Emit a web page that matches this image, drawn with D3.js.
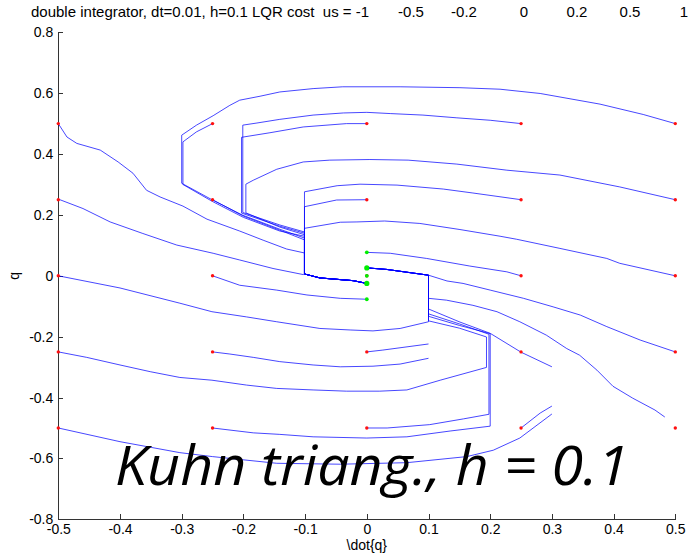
<!DOCTYPE html>
<html>
<head>
<meta charset="utf-8">
<script src="https://cdn.jsdelivr.net/npm/d3@7"></script>
<style>
  body { margin: 0; background: #fff; }
  svg { display: block; font-family: "Liberation Sans", Arial, sans-serif; }
  .axis text { font-size: 14px; fill: #000; }
  .axis path, .axis line { stroke: #333; shape-rendering: crispEdges; }
  .traj { fill: none; stroke: #0000ff; stroke-width: 1; stroke-opacity: 0.72; }
  .title { font-size: 15px; white-space: pre; }
  .axis-title { font-size: 14px; }
  .big-label { font-family: "Open Sans", "Noto Sans", sans-serif; font-style: italic; font-size: 54px; }
</style>
</head>
<body>
<svg id="chart"></svg>
<script>
// tick labels and title controls
const xTicks = [-0.5, -0.4, -0.3, -0.2, -0.1, 0, 0.1, 0.2, 0.3, 0.4, 0.5];
const yTicks = [-0.8, -0.6, -0.4, -0.2, 0, 0.2, 0.4, 0.6, 0.8];
const usValues = [-1, -0.5, -0.2, 0, 0.2, 0.5, 1];

// start grid (red) and final states (green)
const startQdot = [-0.5, -0.25, 0, 0.25, 0.5];
const startQ = [-0.5, -0.25, 0, 0.25, 0.5];
const endQ = [0.077, 0.026, 0, -0.025, -0.077];

// shared final runs along the switching lines
const runDownLeft = [[-0.101, 0.006], [-0.076, -0.007], [-0.022, -0.016], [0, -0.025]];
const runUpRight = [[0.1, 0.002], [0.032, 0.021], [0, 0.026]];

// trajectories, [qdot, q]
const trajP50P50 = [[0.5, 0.5], [0.448, 0.53], [0.378, 0.564], [0.281, 0.599], [0.216, 0.613], [0.151, 0.618], [0.054, 0.621], [-0.039, 0.621], [-0.087, 0.615], [-0.141, 0.604], [-0.173, 0.59], [-0.206, 0.577], [-0.222, 0.56], [-0.249, 0.526], [-0.276, 0.495], [-0.3, 0.462], [-0.3, 0.304], [-0.251, 0.25], [-0.201, 0.199], [-0.141, 0.153], [-0.101, 0.124], ...runDownLeft];
const trajM25P50 = [[-0.25, 0.5], [-0.276, 0.473], [-0.298, 0.44], [-0.298, 0.3], [-0.25, 0.244], [-0.2, 0.192], [-0.141, 0.147], [-0.101, 0.13], ...runDownLeft];
const trajM25P25 = [[-0.25, 0.25], [-0.2, 0.196], [-0.141, 0.15], [-0.101, 0.118], ...runDownLeft];
const trajZ00P50 = [[0, 0.5], [-0.033, 0.5], [-0.103, 0.489], [-0.157, 0.47], [-0.203, 0.455], [-0.203, 0.206], [-0.141, 0.163], [-0.101, 0.14], ...runDownLeft];
const trajP25P50 = [[0.25, 0.5], [0.2, 0.511], [0.146, 0.519], [0.091, 0.528], [0.038, 0.533], [0, 0.537], [-0.038, 0.535], [-0.087, 0.528], [-0.141, 0.514], [-0.178, 0.502], [-0.201, 0.495], [-0.201, 0.208], [-0.141, 0.167], [-0.101, 0.144], ...runDownLeft];
const trajP50P25 = [[0.5, 0.25], [0.41, 0.292], [0.313, 0.331], [0.227, 0.347], [0.146, 0.367], [0.067, 0.38], [0.005, 0.382], [-0.06, 0.38], [-0.103, 0.374], [-0.146, 0.35], [-0.184, 0.314], [-0.196, 0.301], [-0.196, 0.207], [-0.141, 0.16], [-0.101, 0.135], ...runDownLeft];
const trajP25P25 = [[0.25, 0.25], [0.172, 0.272], [0.124, 0.285], [0.049, 0.298], [-0.011, 0.301], [-0.048, 0.296], [-0.101, 0.276], ...runDownLeft];
const trajZ00P25 = [[0, 0.25], [-0.049, 0.249], [-0.101, 0.227], ...runDownLeft];
const trajP50Z00 = [[0.5, 0], [0.41, 0.041], [0.389, 0.057], [0.313, 0.09], [0.243, 0.12], [0.216, 0.13], [0.151, 0.152], [0.086, 0.172], [0.029, 0.18], [-0.016, 0.177], [-0.043, 0.176], [-0.101, 0.156], ...runDownLeft];
const trajP25Z00 = [[0.25, 0], [0.227, 0.013], [0.167, 0.032], [0.097, 0.057], [0.038, 0.074], [0, 0.077]];
const trajM50P50 = [[-0.5, 0.5], [-0.486, 0.456], [-0.47, 0.435], [-0.432, 0.413], [-0.403, 0.374], [-0.379, 0.337], [-0.357, 0.281], [-0.335, 0.259], [-0.298, 0.229], [-0.259, 0.186], [-0.206, 0.147], [-0.168, 0.117], [-0.13, 0.088], [-0.101, 0.075], ...runDownLeft];
const trajM50P25 = [[-0.5, 0.252], [-0.46, 0.221], [-0.416, 0.177], [-0.363, 0.139], [-0.308, 0.101], [-0.249, 0.074], [-0.206, 0.052], [-0.152, 0.024], [-0.103, 0.004], ...runDownLeft];
const trajM50Z00 = [[-0.5, 0], [-0.4, -0.04], [-0.303, -0.09], [-0.251, -0.118], [-0.195, -0.135], [-0.146, -0.151], [-0.076, -0.173], [-0.027, -0.178], [0.01, -0.181], [0.054, -0.173], [0.1, -0.151], ...runUpRight];
const trajM25Z00 = [[-0.25, 0], [-0.206, -0.031], [-0.146, -0.047], [-0.097, -0.063], [-0.043, -0.074], [0, -0.077]];
const trajM50M25 = [[-0.5, -0.25], [-0.454, -0.268], [-0.4, -0.293], [-0.351, -0.315], [-0.303, -0.334], [-0.251, -0.343], [-0.195, -0.359], [-0.146, -0.37], [-0.087, -0.375], [-0.033, -0.379], [0.021, -0.379], [0.065, -0.375], [0.119, -0.343], [0.194, -0.301], [0.194, -0.201], [0.15, -0.172], [0.1, -0.148], ...runUpRight];
const trajM25M25 = [[-0.25, -0.25], [-0.222, -0.257], [-0.184, -0.268], [-0.141, -0.282], [-0.087, -0.293], [-0.043, -0.299], [0.01, -0.297], [0.054, -0.29], [0.1, -0.271]];
const trajZ00M25 = [[0, -0.25], [0.026, -0.244], [0.1, -0.224]];
const trajM50M50 = [[-0.5, -0.5], [-0.4, -0.545], [-0.303, -0.581], [-0.25, -0.594], [-0.146, -0.616], [-0.043, -0.619], [0.065, -0.614], [0.162, -0.594], [0.205, -0.573], [0.248, -0.533], [0.3, -0.454]];
const trajM25M50 = [[-0.25, -0.5], [-0.184, -0.516], [-0.141, -0.521], [-0.087, -0.529], [0, -0.533], [0.065, -0.529], [0.135, -0.51], [0.2, -0.494], [0.2, -0.19], [0.15, -0.163], [0.1, -0.133], ...runUpRight];
const trajZ00M50 = [[0, -0.5], [0.033, -0.5], [0.102, -0.489], [0.157, -0.47], [0.198, -0.455], [0.198, -0.192], [0.15, -0.158], [0.1, -0.125], ...runUpRight];
const trajP25M50 = [[0.25, -0.5], [0.281, -0.451], [0.3, -0.428]];
const trajDiagRight = [[0.3, -0.299], [0.25, -0.251], [0.2, -0.189], [0.151, -0.152], [0.1, -0.109], ...runUpRight];
const trajP50M25 = [[0.5, -0.25], [0.443, -0.211], [0.389, -0.167], [0.346, -0.129], [0.302, -0.102], [0.254, -0.074], [0.2, -0.047], [0.156, -0.025], [0.13, -0.017], ...runUpRight];
const trajP50M50 = [[0.483, -0.464], [0.467, -0.441], [0.431, -0.402], [0.399, -0.363], [0.373, -0.31], [0.345, -0.261], [0.324, -0.239], [0.291, -0.195], [0.248, -0.151], [0.211, -0.118], [0.172, -0.097], [0.129, -0.08], [0.1, -0.074], ...runUpRight];

const trajectories = [
  trajP50P50, trajM25P50, trajM25P25, trajZ00P50, trajP25P50, trajP50P25, trajP25P25,
  trajZ00P25, trajP50Z00, trajP25Z00, trajM50P50, trajM50P25, trajM50Z00, trajM25Z00,
  trajM50M25, trajM25M25, trajZ00M25, trajM50M50, trajM25M50, trajZ00M50, trajP25M50,
  trajDiagRight, trajP50M25, trajP50M50
];

class TrajectoryPlot {

  constructor(_config, _paths) {
    this.config = {
      parentElement: _config.parentElement,
      containerWidth: _config.containerWidth || 689,
      containerHeight: _config.containerHeight || 558,
      margin: _config.margin || {top: 32.3, right: 13.7, bottom: 38.7, left: 58.3}
    }
    this.paths = _paths;
    this.initVis();
  }

  initVis() {
    let vis = this;

    vis.width = vis.config.containerWidth - vis.config.margin.left - vis.config.margin.right;
    vis.height = vis.config.containerHeight - vis.config.margin.top - vis.config.margin.bottom;

    vis.xScale = d3.scaleLinear()
        .domain([-0.5, 0.5])
        .range([0, vis.width]);

    vis.yScale = d3.scaleLinear()
        .domain([-0.8, 0.8])
        .range([vis.height, 0]);

    const fmt = d => String(+d.toFixed(1));

    // MATLAB style: ticks point inwards
    vis.xAxis = d3.axisBottom(vis.xScale)
        .tickValues(xTicks)
        .tickFormat(fmt)
        .tickSize(-5)
        .tickSizeOuter(0)
        .tickPadding(5);

    vis.yAxis = d3.axisLeft(vis.yScale)
        .tickValues(yTicks)
        .tickFormat(fmt)
        .tickSize(-5)
        .tickSizeOuter(0)
        .tickPadding(5);

    vis.svg = d3.select(vis.config.parentElement)
        .attr('width', vis.config.containerWidth)
        .attr('height', vis.config.containerHeight);

    vis.chart = vis.svg.append('g')
        .attr('transform', `translate(${vis.config.margin.left},${vis.config.margin.top})`);

    vis.xAxisG = vis.chart.append('g')
        .attr('class', 'axis x-axis')
        .attr('transform', `translate(0,${vis.height})`);

    vis.yAxisG = vis.chart.append('g')
        .attr('class', 'axis y-axis');

    // title: prefix then the list of controls
    const title = vis.svg.append('text')
        .attr('class', 'title')
        .attr('y', 17);
    title.append('tspan')
        .attr('x', 31)
        .text(`double integrator, dt=0.01, h=0.1 LQR cost  us = ${usValues[0]}`);
    const titleX = [411, 464, 524, 577, 630, 684];
    usValues.slice(1).forEach((u, i) => {
      title.append('tspan')
          .attr('x', titleX[i])
          .attr('text-anchor', 'middle')
          .text(u);
    });

    vis.svg.append('text')
        .attr('class', 'axis-title')
        .attr('x', vis.config.margin.left + vis.width / 2)
        .attr('y', 550)
        .attr('text-anchor', 'middle')
        .text('\\dot{q}');

    vis.svg.append('text')
        .attr('class', 'axis-title')
        .attr('transform', `translate(19,${vis.config.margin.top + vis.height / 2}) rotate(-90)`)
        .attr('text-anchor', 'middle')
        .text('q');

    vis.renderVis();
  }

  renderVis() {
    let vis = this;

    vis.xAxisG.call(vis.xAxis);
    vis.yAxisG.call(vis.yAxis);

    const line = d3.line()
        .x(d => vis.xScale(d[0]))
        .y(d => vis.yScale(d[1]));

    vis.chart.selectAll('.traj')
        .data(vis.paths)
      .join('path')
        .attr('class', 'traj')
        .attr('d', line);

    const starts = d3.cross(startQdot, startQ);
    vis.chart.selectAll('.start')
        .data(starts)
      .join('circle')
        .attr('class', 'start')
        .attr('r', 1.7)
        .attr('cx', d => vis.xScale(d[0]))
        .attr('cy', d => vis.yScale(d[1]))
        .attr('fill', '#ff1010');

    // how many trajectories finish at each green point
    const ends = vis.paths.map(p => p[p.length - 1]);
    vis.chart.selectAll('.end')
        .data(endQ)
      .join('circle')
        .attr('class', 'end')
        .attr('r', q => ends.filter(e => e[0] === 0 && Math.abs(e[1] - q) < 0.002).length > 1 ? 2.6 : 1.9)
        .attr('cx', vis.xScale(0))
        .attr('cy', q => vis.yScale(q))
        .attr('fill', '#00ee00');

    vis.svg.append('text')
        .attr('class', 'big-label')
        .attr('x', 115)
        .attr('y', 485)
        .attr('textLength', 514)
        .attr('lengthAdjust', 'spacingAndGlyphs')
        .text('Kuhn triang., h = 0.1');
  }
}

new TrajectoryPlot({parentElement: '#chart'}, trajectories);
</script>
</body>
</html>
